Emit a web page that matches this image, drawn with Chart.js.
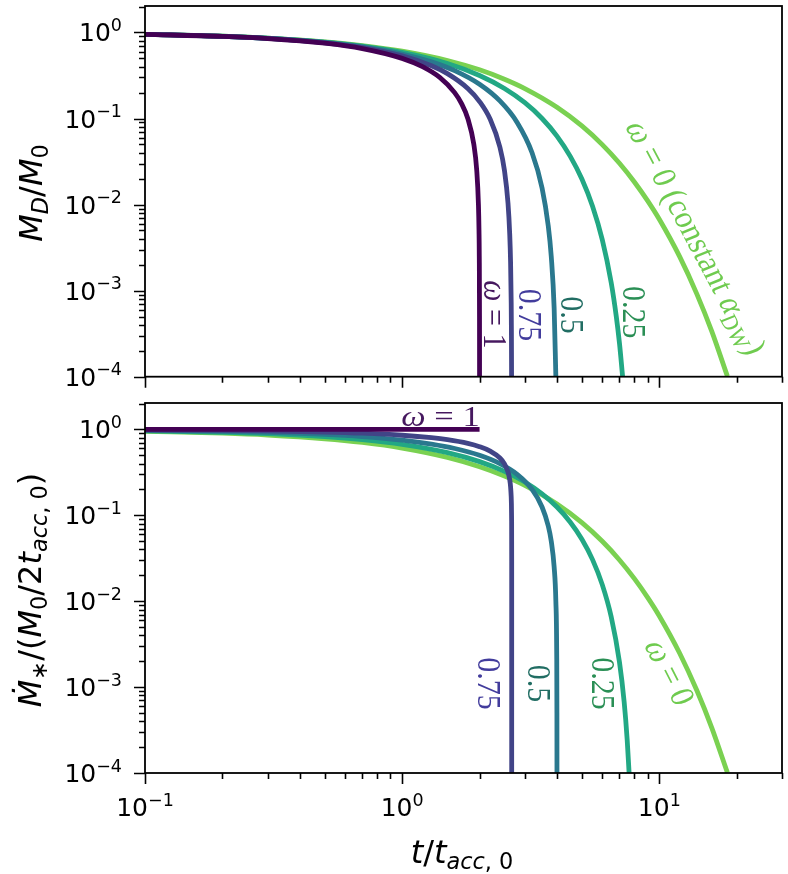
<!DOCTYPE html>
<html>
<head>
<meta charset="utf-8">
<title>Disc mass and accretion rate</title>
<script src="https://cdn.jsdelivr.net/npm/chart.js@4.4.1/dist/chart.umd.min.js"></script>
<style>
  html, body { margin: 0; padding: 0; background: #fff; }
  .panel { position: absolute; left: 0; width: 788px; }
  #topPanel { top: 0; height: 390px; }
  #bottomPanel { top: 390px; height: 484px; }
</style>
</head>
<body>
<div class="panel" id="topPanel"><canvas id="diskChart"></canvas></div>
<div class="panel" id="bottomPanel"><canvas id="rateChart"></canvas></div>
<script>
// curves, in drawing order (first one ends up on top)
const omegaNames = ['1', '0.75', '0.5', '0.25', '0'];
const lineColors = ['#440154', '#414487', '#2a788e', '#22a884', '#7ad151'];

// top panel: M_D/M_0 against t/t_acc,0
const diskT1 = [0.1, 0.2, 0.3, 0.5, 0.7, 1.0, 1.2, 1.4, 1.6, 1.7, 1.8, 1.9, 1.95, 1.98, 1.99, 1.995, 1.999, 1.9998];
const diskM1 = [0.95, 0.9, 0.85, 0.75, 0.65, 0.5, 0.4, 0.3, 0.2, 0.15, 0.1, 0.05, 0.025, 0.01, 0.005, 0.0025, 0.0005, 0.0001];

const diskT075 = [0.1, 0.2, 0.3, 0.5, 0.7, 1.0, 1.3, 1.5, 1.8, 2.0, 2.2, 2.4, 2.5, 2.58, 2.62, 2.64, 2.655, 2.66, 2.664];
const diskM075 = [0.9503, 0.9013, 0.8529, 0.7582, 0.6663, 0.5344, 0.4101, 0.3321, 0.2234, 0.1575, 0.0979, 0.0464, 0.0248, 0.01038, 0.00454, 0.00215, 0.000715, 0.000339, 0.0001];

const diskT05 = [0.1, 0.2, 0.3, 0.5, 0.7, 1.0, 1.3, 1.6, 2.0, 2.4, 2.8, 3.2, 3.5, 3.7, 3.8, 3.9, 3.96];
const diskM05 = [0.9506, 0.9025, 0.8556, 0.7656, 0.6806, 0.5625, 0.4556, 0.36, 0.25, 0.16, 0.09, 0.04, 0.0156, 0.00563, 0.0025, 0.000625, 0.0001];

const diskT025 = [0.1, 0.2, 0.3, 0.5, 0.7, 1.0, 1.5, 2.0, 2.5, 3.0, 3.5, 4.0, 4.5, 5.0, 5.5, 6.0, 6.5, 6.8, 7.0, 7.2];
const diskM025 = [0.9509, 0.9037, 0.8582, 0.7725, 0.6933, 0.5862, 0.4358, 0.3164, 0.2234, 0.1526, 0.1001, 0.0625, 0.0366, 0.0198, 0.00954, 0.00391, 0.00124, 0.000506, 0.000244, 0.0001];

const diskT0 = [0.1, 0.2, 0.3, 0.5, 0.7, 1.0, 1.5, 2.0, 2.5, 3.0, 4.0, 5.0, 6.0, 7.0, 8.0, 9.0, 10, 12, 14, 16, 18.4];
const diskM0 = [0.9512, 0.9048, 0.8607, 0.7788, 0.7047, 0.6065, 0.4724, 0.3679, 0.2865, 0.2231, 0.1353, 0.0821, 0.0498, 0.0302, 0.0183, 0.0111, 0.00674, 0.00248, 0.000912, 0.000336, 0.000101];

// bottom panel: Mdot_*/(M_0/2t_acc,0) against t/t_acc,0
const rateT1 = [0.1, 0.5, 1.0, 1.5, 2.0];
const rateM1 = [1, 1, 1, 1, 1];

const rateT075 = [0.1, 0.2, 0.3, 0.5, 0.7, 1.0, 1.3, 1.5, 1.8, 2.0, 2.2, 2.4, 2.5, 2.58, 2.62, 2.64, 2.655, 2.66, 2.665, 2.6666, 2.66666, 2.666667];
const rateM075 = [0.9873, 0.9744, 0.961, 0.9331, 0.9035, 0.855, 0.8003, 0.7592, 0.6875, 0.63, 0.5593, 0.4642, 0.3969, 0.3191, 0.2596, 0.2154, 0.1636, 0.1357, 0.0855, 0.0292, 0.0136, 0.0001];

const rateT05 = [0.1, 0.2, 0.3, 0.5, 0.7, 1.0, 1.3, 1.6, 2.0, 2.4, 2.8, 3.2, 3.5, 3.7, 3.8, 3.9, 3.96, 3.99, 3.998, 3.9996];
const rateM05 = [0.975, 0.95, 0.925, 0.875, 0.825, 0.75, 0.675, 0.6, 0.5, 0.4, 0.3, 0.2, 0.125, 0.075, 0.05, 0.025, 0.01, 0.0025, 0.0005, 0.0001];

const rateT025 = [0.1, 0.2, 0.3, 0.5, 0.7, 1.0, 1.5, 2.0, 2.5, 3.0, 3.5, 4.0, 4.5, 5.0, 5.5, 6.0, 6.5, 7.0, 7.3, 7.5, 7.63];
const rateM025 = [0.963, 0.9269, 0.8917, 0.824, 0.7598, 0.6699, 0.5364, 0.4219, 0.325, 0.2441, 0.178, 0.125, 0.0837, 0.0527, 0.0305, 0.0156, 0.00659, 0.00195, 0.00067, 0.000244, 0.0001];

// for omega = 0 the rate curve lies exactly on the mass curve
const rateT0 = diskT0;
const rateM0 = diskM0;

// axes
const xMin = 0.1, xMax = 30;
const yMin = 1e-4, yMax = 2.03;
const xMajor = [0.1, 1, 10];
const xMajorExp = ['\u22121', '0', '1'];
const yMajor = [1e-4, 1e-3, 1e-2, 1e-1, 1];
const yMajorExp = ['\u22124', '\u22123', '\u22122', '\u22121', '0'];

const SANS = '"DejaVu Sans", sans-serif';
const SERIF = '"Liberation Serif", "Times New Roman", serif';

function makeSets(ts, ys) {
    return ts.map((t, i) => ({
        label: '\u03c9 = ' + omegaNames[i],
        data: t.map((v, j) => ({ x: v, y: ys[i][j] })),
        borderColor: lineColors[i],
        borderWidth: 4.8,
        pointRadius: 0,
        fill: false,
        cubicInterpolationMode: 'monotone'
    }));
}

// runs: [text, flags]  flags: i = italic, _ = subscript, ^ = superscript
function layoutRuns(ctx, runs, size, family) {
    let w = 0;
    const parts = runs.map(([txt, fl = '']) => {
        const small = fl.includes('_') || fl.includes('^');
        const s = small ? size * 0.7 : size;
        const font = (fl.includes('i') ? 'italic ' : '') + s.toFixed(1) + 'px ' + family;
        ctx.font = font;
        const p = { txt, font, x: w, dy: fl.includes('_') ? size * 0.2 : fl.includes('^') ? -size * 0.42 : 0 };
        w += ctx.measureText(txt).width;
        return p;
    });
    return { parts, w };
}

function drawRuns(ctx, runs, o) {
    const { parts, w } = layoutRuns(ctx, runs, o.size, o.family);
    const sx = o.sx || 1;
    const ang = (o.angle || 0) * Math.PI / 180;
    const rot = Math.atan2(sx * Math.sin(ang), Math.cos(ang));
    ctx.save();
    ctx.translate(o.x, o.y);
    ctx.scale(sx, 1);
    ctx.rotate(rot);
    const x0 = o.align === 'right' ? -w : o.align === 'left' ? 0 : -w / 2;
    ctx.fillStyle = o.color || '#000';
    ctx.textBaseline = 'alphabetic';
    const base = o.size * 0.36;
    parts.forEach(p => {
        ctx.font = p.font;
        ctx.fillText(p.txt, x0 + p.x, base + p.dy);
    });
    ctx.restore();
}

const panelDecor = {
    id: 'panelDecor',
    afterDraw(chart, args, opts) {
        const { ctx, chartArea: a, scales: { x, y } } = chart;
        ctx.save();

        // tick marks, outward, bottom and left only
        ctx.strokeStyle = '#000';
        ctx.lineWidth = 1.6;
        ctx.beginPath();
        for (let k = -1; k <= 1; k++) {
            for (let m = 1; m <= 9; m++) {
                const v = m * Math.pow(10, k);
                if (v < xMin * 0.999 || v > xMax * 1.001) continue;
                const px = Math.round(x.getPixelForValue(v)) + 0.5;
                ctx.moveTo(px, a.bottom);
                ctx.lineTo(px, a.bottom + (m === 1 ? 11 : 6));
            }
        }
        for (let k = -4; k <= 0; k++) {
            for (let m = 1; m <= 9; m++) {
                const v = m * Math.pow(10, k);
                if (v < yMin * 0.999 || v > yMax * 1.001) continue;
                const py = Math.round(y.getPixelForValue(v)) + 0.5;
                ctx.moveTo(a.left, py);
                ctx.lineTo(a.left - (m === 1 ? 11 : 6), py);
            }
        }
        ctx.stroke();

        // frame
        ctx.lineWidth = 1.8;
        ctx.strokeRect(a.left, a.top, a.right - a.left, a.bottom - a.top);

        // tick labels
        yMajor.forEach((v, i) => {
            drawRuns(ctx, [['10'], [yMajorExp[i], '^']], {
                x: a.left - 23, y: y.getPixelForValue(v), size: 25, family: SANS, align: 'right'
            });
        });
        if (opts.xLabels) {
            xMajor.forEach((v, i) => {
                drawRuns(ctx, [['10'], [xMajorExp[i], '^']], {
                    x: x.getPixelForValue(v), y: a.bottom + 34, size: 25, family: SANS
                });
            });
        }

        // axis titles
        if (opts.yTitle) {
            drawRuns(ctx, opts.yTitle.runs, {
                x: opts.yTitle.pos[0], y: opts.yTitle.pos[1], size: 32, family: SANS, angle: -90
            });
        }
        if (opts.xTitle) {
            drawRuns(ctx, opts.xTitle.runs, {
                x: opts.xTitle.pos[0], y: opts.xTitle.pos[1], size: 32, family: SANS
            });
        }

        // curve labels, anchored in data coordinates
        (opts.notes || []).forEach(n => {
            drawRuns(ctx, n.runs, {
                x: x.getPixelForValue(n.at[0]), y: y.getPixelForValue(n.at[1]),
                size: 30, family: SERIF, angle: n.angle, sx: 1.15, color: n.color
            });
        });

        ctx.restore();
    }
};

function panelOptions(padTop, xAxisHeight, decor) {
    return {
        responsive: true,
        maintainAspectRatio: false,
        animation: false,
        events: [],
        layout: { padding: { top: padTop, right: 6, left: 0, bottom: 0 } },
        scales: {
            x: {
                type: 'logarithmic', min: xMin, max: xMax,
                ticks: { display: false }, grid: { display: false }, border: { display: false },
                afterFit: s => { s.height = xAxisHeight; }
            },
            y: {
                type: 'logarithmic', min: yMin, max: yMax,
                ticks: { display: false }, grid: { display: false }, border: { display: false },
                afterFit: s => { s.width = 145; }
            }
        },
        plugins: { legend: { display: false }, tooltip: { enabled: false }, panelDecor: decor }
    };
}

const diskNotes = [
    { runs: [['\u03c9', 'i'], [' = 1']], at: [2.33, 5.3e-4], angle: 90, color: '#46185f' },
    { runs: [['0.75']], at: [3.18, 5.2e-4], angle: 90, color: '#423c9c' },
    { runs: [['0.5']], at: [4.63, 5.2e-4], angle: 90, color: '#216d63' },
    { runs: [['0.25']], at: [8.1, 5.6e-4], angle: 90, color: '#2a8f55' },
    { runs: [['\u03c9', 'i'], [' = 0 (constant '], ['\u03b1', 'i'], ['DW', '_'], [')']],
      at: [14.06, 4.19e-3], angle: 62, color: '#6fcb4f' }
];

const rateNotes = [
    { runs: [['\u03c9', 'i'], [' = 1']], at: [1.41, 1.45], angle: 0, color: '#46185f' },
    { runs: [['0.75']], at: [2.20, 1.1e-3], angle: 90, color: '#423c9c' },
    { runs: [['0.5']], at: [3.44, 1.1e-3], angle: 90, color: '#216d63' },
    { runs: [['0.25']], at: [6.14, 1.1e-3], angle: 90, color: '#2a8f55' },
    { runs: [['\u03c9', 'i'], [' = 0']], at: [11.1, 1.5e-3], angle: 63, color: '#6fcb4f' }
];

new Chart(document.getElementById('diskChart'), {
    type: 'line',
    data: { datasets: makeSets([diskT1, diskT075, diskT05, diskT025, diskT0], [diskM1, diskM075, diskM05, diskM025, diskM0]) },
    options: panelOptions(6, 13.3, {
        xLabels: false,
        yTitle: { runs: [['M', 'i'], ['D', 'i_'], ['/'], ['M', 'i'], ['0', '_']], pos: [30, 193] },
        notes: diskNotes
    }),
    plugins: [panelDecor]
});

new Chart(document.getElementById('rateChart'), {
    type: 'line',
    data: { datasets: makeSets([rateT1, rateT075, rateT05, rateT025, rateT0], [rateM1, rateM075, rateM05, rateM025, rateM0]) },
    options: panelOptions(13, 101, {
        xLabels: true,
        yTitle: {
            runs: [['\u1e40', 'i'], ['\u2217', '_'], ['/('], ['M', 'i'], ['0', '_'], ['/2'], ['t', 'i'], ['acc', 'i_'], [', 0', '_'], [')']],
            pos: [29, 200]
        },
        xTitle: { runs: [['t', 'i'], ['/'], ['t', 'i'], ['acc', 'i_'], [', 0', '_']], pos: [462, 461] },
        notes: rateNotes
    }),
    plugins: [panelDecor]
});
</script>
</body>
</html>
